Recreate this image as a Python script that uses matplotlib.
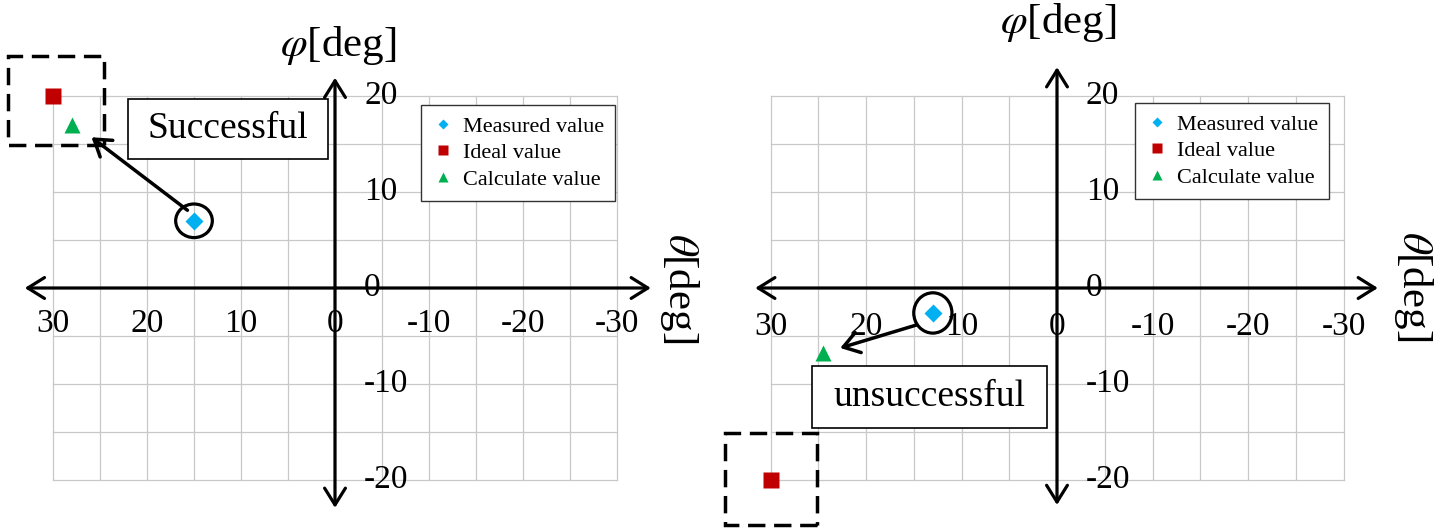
import matplotlib
matplotlib.use('Agg')
import matplotlib.pyplot as plt
from matplotlib.lines import Line2D
from matplotlib.patches import Rectangle, Ellipse

plt.rcParams['font.family'] = ['Liberation Serif', 'DejaVu Serif']
plt.rcParams['mathtext.fontset'] = 'stix'

# series: measured, ideal, calculated  (theta, phi in degrees)
series_names = ['Measured value', 'Ideal value', 'Calculate value']
series_colors = ['#00B0F0', '#C00000', '#00B050']
series_markers = ['D', 's', '^']
series_sizes = [9, 12, 12]

success_theta = [15.0, 30.0, 28.0]
success_phi = [7.0, 20.0, 17.0]
fail_theta = [13.0, 30.0, 24.5]
fail_phi = [-2.6, -20.0, -6.8]

theta_ticks = [30, 20, 10, 0, -10, -20, -30]
phi_ticks = [20, 10, 0, -10, -20]
grid_theta = list(range(-30, 31, 5))
grid_phi = list(range(-20, 21, 5))

W, H = 1447, 529
fig = plt.figure(figsize=(W / 100, H / 100), dpi=100)


def panel_axes(left, right, x0, y0, sx, sy):
    # axes spanning a pixel strip, with the origin at pixel (x0, y0)
    ax = fig.add_axes([left / W, 0, (right - left) / W, 1])
    ax.set_xlim((x0 - left) / sx, (x0 - right) / sx)
    ax.set_ylim((y0 - H) / sy, y0 / sy)
    ax.axis('off')
    return ax


def draw_panel(ax, theta, phi, opts):
    for g in grid_theta:
        ax.plot([g, g], [-20, 20], color='#c8c8c8', lw=0.9, zorder=1)
    for g in grid_phi:
        ax.plot([30, -30], [g, g], color='#c8c8c8', lw=0.9, zorder=1)

    # coordinate axes with arrowheads at both ends
    arrow = dict(arrowstyle='<->,head_length=0.4,head_width=0.25', lw=2.3,
                 color='k', shrinkA=0, shrinkB=0, mutation_scale=30)
    x_lo, x_hi = opts['x_axis']
    y_lo, y_hi = opts['y_axis']
    ax.annotate('', xy=(x_hi, 0), xytext=(x_lo, 0), arrowprops=arrow, zorder=3)
    ax.annotate('', xy=(0, y_hi), xytext=(0, y_lo), arrowprops=arrow, zorder=3)

    for t in theta_ticks:
        ax.text(t, opts['xtick_y'], str(t), ha='center', va='center',
                fontsize=24, zorder=4)
    for p in phi_ticks:
        ax.text(opts['ytick_x'], p, str(p), ha='left', va='center',
                fontsize=24, zorder=4)

    ax.text(*opts['phi_pos'], r'$\varphi$[deg]', ha='center', va='center',
            fontsize=31)
    ax.text(*opts['theta_pos'], r'$\theta$[deg]', ha='center', va='center',
            fontsize=31, rotation=-90)

    for i in range(3):
        ax.plot(theta[i], phi[i], ls='none', marker=series_markers[i],
                ms=series_sizes[i], color=series_colors[i], mec='none', zorder=6)

    # highlight around the measured point and arrow to the calculated one
    ax.add_patch(Ellipse((theta[0], phi[0]), *opts['ring'], fill=False,
                         ec='k', lw=2.3, zorder=7))
    ax.annotate('', xy=opts['arrow_tip'], xytext=opts['arrow_tail'],
                arrowprops=dict(arrowstyle='->,head_length=0.45,head_width=0.3',
                                lw=2.5, color='k', shrinkA=0, shrinkB=0,
                                mutation_scale=25), zorder=7)

    bx, by, bw, bh = opts['dash_box']
    ax.add_patch(Rectangle((bx, by), bw, bh, fill=False, ec='k', lw=2.5,
                           ls=(0, (5, 2.5)), zorder=7))

    rx, ry, rw, rh = opts['note_box']
    ax.add_patch(Rectangle((rx, ry), rw, rh, fc='white', ec='k', lw=1.2,
                           zorder=5))
    ax.text(rx + rw / 2, ry + rh / 2, opts['note'], ha='center', va='center',
            fontsize=27, zorder=6)

    handles = [Line2D([], [], ls='none', marker=series_markers[i],
                      color=series_colors[i], mec='none',
                      ms=series_sizes[i] * 0.6) for i in range(3)]
    leg = ax.legend(handles, series_names, loc='upper left',
                    bbox_to_anchor=opts['legend_at'], bbox_transform=ax.transData,
                    borderaxespad=0, fontsize=16, frameon=True, fancybox=False,
                    framealpha=1, edgecolor='#333333', handlelength=1.0,
                    handletextpad=0.4, labelspacing=0.27, borderpad=0.5)
    leg.get_frame().set_linewidth(1.0)
    leg.set_zorder(8)


left_ax = panel_axes(0, 720, 335, 288, 9.4, 9.6)
draw_panel(left_ax, success_theta, success_phi, dict(
    x_axis=(33.0, -33.6), y_axis=(-22.9, 21.9),
    xtick_y=-3.7, ytick_x=-3.1,
    phi_pos=(-0.3, 25.3), theta_pos=(-36.6, 0.0),
    ring=(3.9, 3.5), arrow_tail=(15.7, 8.1), arrow_tip=(25.9, 15.7),
    dash_box=(24.6, 14.9, 10.2, 9.3),
    note_box=(0.74, 13.4, 21.3, 6.3), note='Successful',
    legend_at=(-9.15, 19.06),
))

right_ax = panel_axes(720, W, 1057, 288, 9.55, 9.6)
draw_panel(right_ax, fail_theta, fail_phi, dict(
    x_axis=(31.6, -33.6), y_axis=(-22.6, 23.0),
    xtick_y=-4.0, ytick_x=-3.0,
    phi_pos=(-0.1, 27.7), theta_pos=(-37.3, 0.2),
    ring=(4.0, 4.2), arrow_tail=(14.7, -3.85), arrow_tip=(22.7, -6.25),
    dash_box=(25.1, -24.7, 9.7, 9.6),
    note_box=(1.05, -14.6, 24.6, 6.5), note='unsuccessful',
    legend_at=(-8.17, 19.27),
))

fig.savefig('out.png', dpi=100)
